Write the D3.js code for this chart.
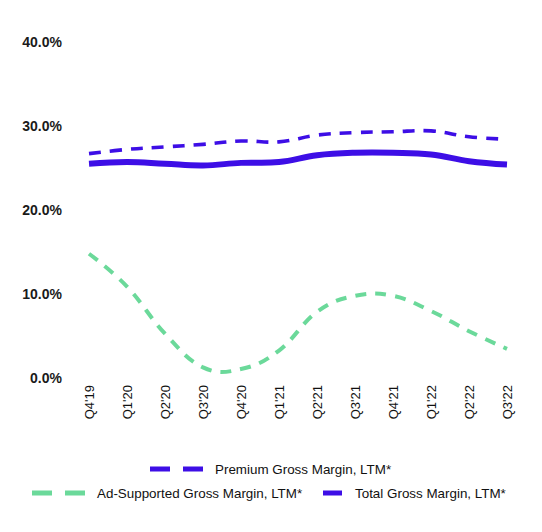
<!DOCTYPE html>
<html><head><meta charset="utf-8">
<script src="https://cdn.jsdelivr.net/npm/d3@7"></script>
<style>body{margin:0;background:#fff;}svg{display:block;font-family:"Liberation Sans",Arial,sans-serif;}</style>
</head><body>
<svg id="c" width="542" height="532"></svg>
<script>
const quarters = ["Q4'19","Q1'20","Q2'20","Q3'20","Q4'20","Q1'21","Q2'21","Q3'21","Q4'21","Q1'22","Q2'22","Q3'22"];
const premium = [26.7, 27.2, 27.5, 27.8, 28.2, 28.1, 28.9, 29.2, 29.3, 29.4, 28.7, 28.4];
const adSupported = [14.8, 10.9, 5.3, 1.3, 1.1, 3.3, 7.9, 9.8, 9.8, 8.0, 5.6, 3.5];
const total = [25.5, 25.7, 25.5, 25.3, 25.6, 25.7, 26.5, 26.8, 26.8, 26.6, 25.8, 25.4];
const yTicks = [0, 10, 20, 30, 40];
const seriesNames = ["Premium Gross Margin, LTM*", "Ad-Supported Gross Margin, LTM*", "Total Gross Margin, LTM*"];

const BLUE = "#3d0ee6", GREEN = "#6bd99a";
const svg = d3.select("#c");
const x = d3.scalePoint().domain(quarters).range([89, 507]);
const y = d3.scaleLinear().domain([0, 40]).range([378.3, 41.7]);

// y axis labels
const yAxis = d3.axisLeft(y).tickValues(yTicks).tickFormat(d => d.toFixed(1) + "%").tickSize(0).tickPadding(0);
const ya = svg.append("g").attr("transform", "translate(62,0)").call(yAxis);
ya.select(".domain").remove();
ya.selectAll("text").attr("font-size", 14).attr("font-weight", "bold").attr("fill", "#1a1a1a").attr("font-family", "Liberation Sans, Arial, sans-serif");

// x axis labels
const xAxis = d3.axisBottom(x).tickSize(0).tickPadding(0);
const xa = svg.append("g").attr("transform", "translate(0,385)").call(xAxis);
xa.select(".domain").remove();
xa.selectAll("text").attr("font-size", 13).attr("fill", "#111").attr("font-family", "Liberation Sans, Arial, sans-serif")
  .attr("transform", "rotate(-90)").attr("text-anchor", "end").attr("x", 0).attr("y", 0).attr("dy", "0.35em");

const curve = d3.curveCardinal.tension(-0.2);
const line = d3.line().x((d, i) => x(quarters[i])).y(d => y(d)).curve(curve);

svg.append("path").datum(adSupported).attr("d", line).attr("fill", "none")
  .attr("stroke", GREEN).attr("stroke-width", 4).attr("stroke-dasharray", "11,9");
svg.append("path").datum(total).attr("d", line).attr("fill", "none")
  .attr("stroke", BLUE).attr("stroke-width", 6);
svg.append("path").datum(premium).attr("d", line).attr("fill", "none")
  .attr("stroke", BLUE).attr("stroke-width", 3.6).attr("stroke-dasharray", "12,9");

// legend
const lg = svg.append("g").attr("font-size", 13.4).attr("fill", "#111");
function dashedSample(x0, yy, color) {
  lg.append("rect").attr("x", x0).attr("y", yy - 2.5).attr("width", 20).attr("height", 5).attr("fill", color);
  lg.append("rect").attr("x", x0 + 33).attr("y", yy - 2.5).attr("width", 20).attr("height", 5).attr("fill", color);
}
dashedSample(150, 469, BLUE);
lg.append("text").attr("x", 215).attr("y", 469).attr("dy", "0.35em").text(seriesNames[0]);
dashedSample(32, 493, GREEN);
lg.append("text").attr("x", 97).attr("y", 493).attr("dy", "0.35em").text(seriesNames[1]);
lg.append("rect").attr("x", 323).attr("y", 490.5).attr("width", 19).attr("height", 5).attr("fill", BLUE);
lg.append("text").attr("x", 355).attr("y", 493).attr("dy", "0.35em").text(seriesNames[2]);
</script>
</body></html>
